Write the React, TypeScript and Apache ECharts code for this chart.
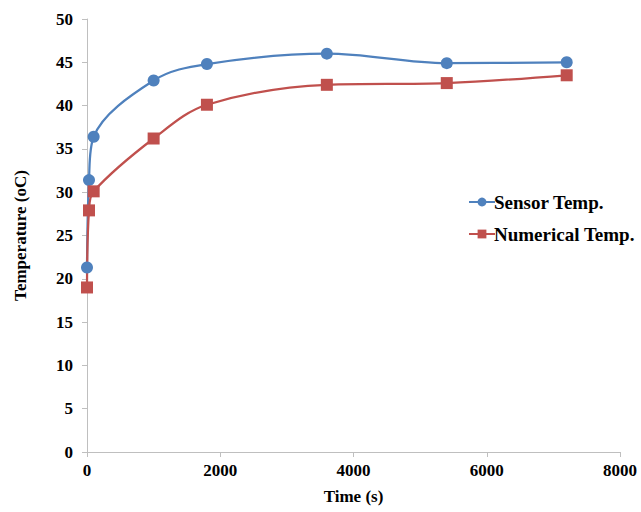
import React, { useEffect, useRef } from "react";
import * as echarts from "echarts";

const times = [0, 30, 100, 1000, 1800, 3600, 5400, 7200];
const sensorTemp = [21.3, 31.4, 36.4, 42.9, 44.8, 46.0, 44.9, 45.0];
const numericalTemp = [19.0, 27.9, 30.1, 36.2, 40.1, 42.4, 42.6, 43.5];
const seriesNames = ["Sensor Temp.", "Numerical Temp."];

const FONT = "Liberation Serif";

export default function App() {
  const ref = useRef<HTMLDivElement>(null);
  useEffect(() => {
    if (!ref.current) return;
    const chart = echarts.init(ref.current, undefined, { renderer: "svg" });
    const axisLine = { show: true, lineStyle: { color: "#bfbfbf", width: 1 } };
    const labelStyle = { fontFamily: FONT, fontWeight: "bold" as const, fontSize: 17, color: "#000" };
    chart.setOption({
      animation: false,
      backgroundColor: "#fff",
      grid: { left: 87, right: 21, top: 19, bottom: 60, containLabel: false },
      legend: {
        orient: "vertical",
        left: 463,
        top: 187,
        itemWidth: 26,
        itemHeight: 11,
        itemGap: 12,
        padding: [5, 2, 5, 5],
        textStyle: {
          fontFamily: FONT,
          fontWeight: "bold",
          fontSize: 19,
          lineHeight: 20,
          color: "#000",
          padding: [0, 0, 0, -6],
        },
        data: seriesNames,
      },
      xAxis: {
        type: "value",
        min: 0,
        max: 8000,
        interval: 2000,
        axisLine,
        axisTick: { show: true, length: 5, lineStyle: { color: "#bfbfbf" } },
        splitLine: { show: false },
        axisLabel: { ...labelStyle, margin: 10, formatter: (v: number) => String(v) },
        name: "Time (s)",
        nameLocation: "middle",
        nameGap: 36,
        nameTextStyle: { ...labelStyle },
      },
      yAxis: {
        type: "value",
        min: 0,
        max: 50,
        interval: 5,
        axisLine,
        axisTick: { show: true, length: 5, lineStyle: { color: "#bfbfbf" } },
        splitLine: { show: false },
        axisLabel: { ...labelStyle, margin: 14 },
        name: "Temperature (oC)",
        nameLocation: "middle",
        nameGap: 58,
        nameRotate: 90,
        nameTextStyle: { ...labelStyle },
      },
      series: [
        {
          name: seriesNames[0],
          type: "line",
          smooth: 0.35,
          data: times.map((t, i) => [t, sensorTemp[i]]),
          symbol: "circle",
          symbolSize: 12,
          lineStyle: { color: "#4F81BD", width: 2.25 },
          itemStyle: { color: "#4F81BD" },
        },
        {
          name: seriesNames[1],
          type: "line",
          smooth: 0.35,
          data: times.map((t, i) => [t, numericalTemp[i]]),
          symbol: "rect",
          symbolSize: 12,
          lineStyle: { color: "#C0504D", width: 2.25 },
          itemStyle: { color: "#C0504D" },
        },
      ],
    });
    return () => chart.dispose();
  }, []);
  return <div ref={ref} style={{ width: 641, height: 512, position: "absolute", left: 0, top: 0 }} />;
}
